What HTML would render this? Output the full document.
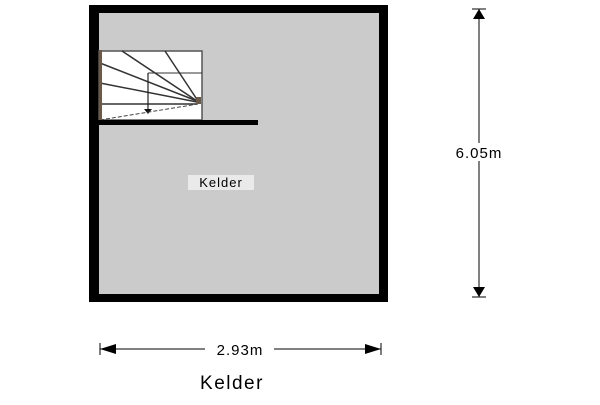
<!DOCTYPE html>
<html><head><style>
body{margin:0;background:#fff;width:600px;height:400px;overflow:hidden;font-family:"Liberation Sans",sans-serif}
</style></head><body>
<svg width="600" height="400" viewBox="0 0 600 400" xmlns="http://www.w3.org/2000/svg">
<rect x="94" y="9" width="290" height="290" fill="#555" opacity="0.3"/>
<rect x="89" y="5" width="299" height="297" fill="#000"/>
<rect x="99" y="13" width="280" height="281" fill="#cbcbcb"/>
<!-- stair -->
<rect x="99" y="51" width="103" height="69" fill="#fff" stroke="#555" stroke-width="1.5"/>
<g stroke="#333" stroke-width="1.5">
<line x1="122" y1="51" x2="197" y2="101"/>
<line x1="165" y1="51" x2="198" y2="101"/>
<line x1="100" y1="63" x2="197" y2="101"/>
<line x1="100" y1="83" x2="197" y2="102"/>
<line x1="100" y1="104" x2="197" y2="104"/>
</g>
<line x1="148" y1="73" x2="202" y2="73" stroke="#333" stroke-width="1"/>
<line x1="148" y1="73" x2="148" y2="110" stroke="#222" stroke-width="1.2"/>
<polygon points="144,109 152,109 148,114" fill="#111"/>
<line x1="100" y1="120" x2="198" y2="104" stroke="#444" stroke-width="1" stroke-dasharray="4,2"/>
<rect x="196" y="97" width="5" height="7" fill="#6b5a4a"/>
<rect x="99" y="50" width="3" height="71" fill="#6b5a4a"/>
<rect x="95" y="120" width="163" height="5" fill="#000"/>
<!-- room label -->
<rect x="188" y="175" width="66" height="15" fill="#fff" opacity="0.6"/>
<text x="221" y="187" font-size="13" letter-spacing="1" text-anchor="middle" fill="#000">Kelder</text>
<!-- vertical dim -->
<line x1="479" y1="9" x2="479" y2="297" stroke="#000" stroke-width="1"/>
<line x1="472" y1="9" x2="486" y2="9" stroke="#000"/>
<line x1="472" y1="297" x2="486" y2="297" stroke="#000"/>
<polygon points="479,9 473,19 485,19" fill="#000"/>
<polygon points="479,297 473,287 485,287" fill="#000"/>
<rect x="446" y="143" width="66" height="18" fill="#fff"/>
<text x="479" y="158" font-size="15" letter-spacing="1" text-anchor="middle">6.05m</text>
<!-- horizontal dim -->
<line x1="100" y1="349" x2="381" y2="349" stroke="#000" stroke-width="1"/>
<line x1="100" y1="343" x2="100" y2="355" stroke="#000"/>
<line x1="381" y1="343" x2="381" y2="355" stroke="#000"/>
<polygon points="100,349 116,344 116,354" fill="#000"/>
<polygon points="381,349 365,344 365,354" fill="#000"/>
<rect x="205" y="340" width="69" height="18" fill="#fff"/>
<text x="240" y="355" font-size="15" letter-spacing="1" text-anchor="middle">2.93m</text>
<text x="232" y="389" font-size="19" letter-spacing="1.5" text-anchor="middle">Kelder</text>
</svg>
</body></html>
